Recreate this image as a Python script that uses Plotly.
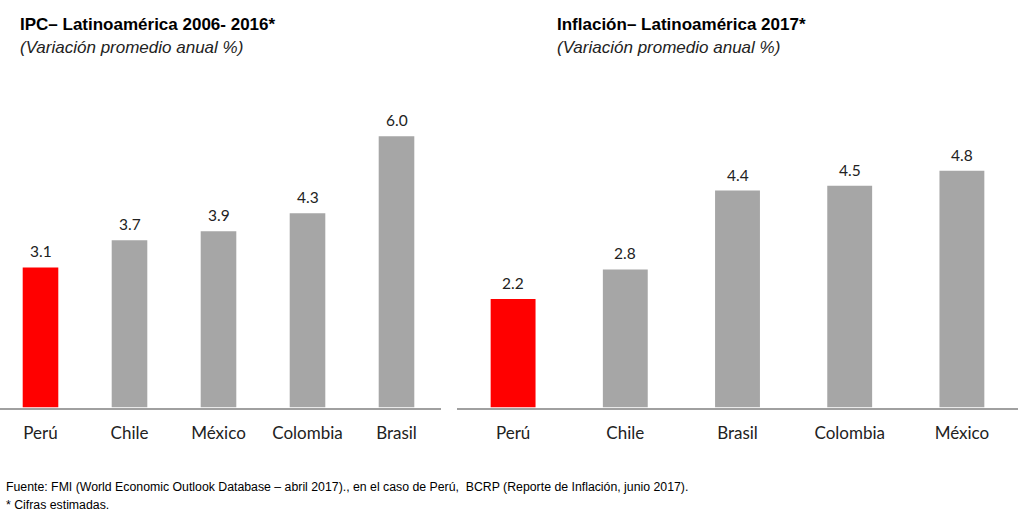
import plotly.graph_objects as go

# Data
left_categories = ["Perú", "Chile", "México", "Colombia", "Brasil"]
left_values = [3.1, 3.7, 3.9, 4.3, 6.0]
right_categories = ["Perú", "Chile", "Brasil", "Colombia", "México"]
right_values = [2.2, 2.8, 4.4, 4.5, 4.8]

left_title = "IPC– Latinoamérica 2006- 2016*"
right_title = "Inflación– Latinoamérica 2017*"
subtitle = "(Variación promedio anual %)"
footer1 = "Fuente: FMI (World Economic Outlook Database – abril 2017)., en el caso de Perú,  BCRP (Reporte de Inflación, junio 2017)."
footer2 = "* Cifras estimadas."

RED = "#ff0000"
GRAY = "#a6a6a6"
W, H = 1023, 515


def colors(cats):
    return [RED if c == "Perú" else GRAY for c in cats]


fig = go.Figure()
fig.add_trace(go.Bar(x=left_categories, y=left_values, marker_color=colors(left_categories),
                     marker_line_width=0, width=0.4, xaxis="x", yaxis="y", hoverinfo="x+y"))
fig.add_trace(go.Bar(x=right_categories, y=right_values, marker_color=colors(right_categories),
                     marker_line_width=0, width=0.4, xaxis="x2", yaxis="y2", hoverinfo="x+y"))

annotations = []
for cats, vals, xr, yr in [(left_categories, left_values, "x", "y"),
                           (right_categories, right_values, "x2", "y2")]:
    for c, v in zip(cats, vals):
        annotations.append(dict(x=c, y=v, xref=xr, yref=yr, text=f"{v:.1f}", showarrow=False,
                                yanchor="middle", yshift=16,
                                font=dict(family="Lato", size=15.5, color="#222222")))

# titles
for x0, t in [(18, left_title), (555, right_title)]:
    annotations.append(dict(x=x0 / W, y=1 - 25 / H, xref="paper", yref="paper", text=f"<b>{t}</b>",
                            showarrow=False, xanchor="left", yanchor="middle",
                            font=dict(family="Liberation Sans", size=17, color="#000000")))
    annotations.append(dict(x=x0 / W, y=1 - 47 / H, xref="paper", yref="paper",
                            text=f"<i>{subtitle}</i>", showarrow=False, xanchor="left",
                            yanchor="middle",
                            font=dict(family="Liberation Sans", size=17, color="#222222")))

annotations.append(dict(x=4 / W, y=1 - 487 / H, xref="paper", yref="paper", text=footer1,
                        showarrow=False, xanchor="left", yanchor="middle",
                        font=dict(family="Liberation Sans", size=12.3, color="#000000")))
annotations.append(dict(x=4 / W, y=1 - 505 / H, xref="paper", yref="paper", text=footer2,
                        showarrow=False, xanchor="left", yanchor="middle",
                        font=dict(family="Liberation Sans", size=12.3, color="#000000")))

base = 407.5
top = 100
ydom = [(H - base) / H, (H - top) / H]
span = base - top

xaxis_common = dict(type="category", showgrid=False, zeroline=False, showline=True,
                    linecolor="#a0a0a0", linewidth=1.5, ticks="", ticklabelstandoff=9,
                    tickfont=dict(family="Lato", size=17, color="#222222"), fixedrange=True)
yaxis_common = dict(visible=False, showgrid=False, zeroline=False, fixedrange=True)

fig.update_layout(
    width=W, height=H, margin=dict(l=0, r=0, t=0, b=0),
    paper_bgcolor="white", plot_bgcolor="white", showlegend=False,
    xaxis=dict(domain=[0, 441 / W], range=[-0.455, 4.5], anchor="y", **xaxis_common),
    xaxis2=dict(domain=[457 / W, 1018 / W], range=[-0.5, 4.5], anchor="y2", **xaxis_common),
    yaxis=dict(domain=ydom, range=[0, span / 45.2], anchor="x", **yaxis_common),
    yaxis2=dict(domain=ydom, range=[0, span / 49.3], anchor="x2", **yaxis_common),
    annotations=annotations,
)

fig.write_html("out.html", config={"displayModeBar": False},
               post_script="document.body.style.margin='0';document.body.style.overflow='hidden';")
